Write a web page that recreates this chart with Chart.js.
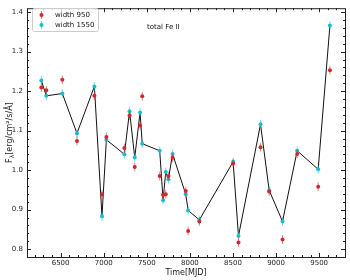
<!DOCTYPE html>
<html>
<head>
<meta charset="utf-8">
<script src="https://cdn.jsdelivr.net/npm/chart.js@4/dist/chart.umd.min.js"></script>
<style>
  html, body { margin: 0; padding: 0; background: #fff; }
  #wrap { width: 350px; height: 280px; }
</style>
</head>
<body>
<div id="wrap"><canvas id="feChart" width="350" height="280"></canvas></div>
<script>
// --- data ---
const mjd = [6276, 6334, 6520, 6690, 6892, 6980, 7031, 7240, 7300, 7360, 7422, 7447,
  7650, 7689, 7720, 7751, 7799, 7952, 7980, 8110, 8502, 8564, 8820, 8920, 9075, 9245, 9489, 9625];
const flux1550 = [1.227, 1.188, 1.194, 1.093, 1.212, 0.883, 1.077, 1.040, 1.149, 1.032, 1.146, 1.067,
  1.049, 0.924, 0.995, 0.977, 1.041, 0.939, 0.898, 0.874, 1.021, 0.833, 1.116, 0.949, 0.870, 1.049, 1.002, 1.366];
const flux950 = [1.209, 1.202, 1.229, 1.074, 1.188, 0.939, 1.084, 1.056, 1.138, 1.008, 1.113, 1.187,
  0.985, 0.937, 0.939, 0.985, 1.031, 0.947, 0.846, 0.870, 1.017, 0.817, 1.058, 0.946, 0.824, 1.041, 0.958, 1.253];
const err1550 = 0.011;
const err950 = 0.011;
const errMjd = 12;
const xTicks = [6500, 7000, 7500, 8000, 8500, 9000, 9500];
const yTicks = [0.8, 0.9, 1.0, 1.1, 1.2, 1.3, 1.4];

const RED = '#d62728';
const CYAN = '#17becf';
const FONT = 'DejaVu Sans';

const pts = (ys) => mjd.map((x, i) => ({ x, y: ys[i] }));

// error bars drawn just before each marker dataset
const errorBars = {
  id: 'errorBars',
  beforeDatasetDraw(chart, args) {
    const ds = chart.data.datasets[args.index];
    if (ds.yErr === undefined) return;
    const { ctx, scales: { x, y } } = chart;
    ctx.save();
    ctx.strokeStyle = ds.errColor;
    ctx.lineWidth = 1;
    ds.data.forEach(p => {
      const px = x.getPixelForValue(p.x);
      ctx.beginPath();
      ctx.moveTo(px, y.getPixelForValue(p.y - ds.yErr));
      ctx.lineTo(px, y.getPixelForValue(p.y + ds.yErr));
      const py = y.getPixelForValue(p.y);
      ctx.moveTo(x.getPixelForValue(p.x - errMjd), py);
      ctx.lineTo(x.getPixelForValue(p.x + errMjd), py);
      ctx.stroke();
    });
    ctx.restore();
  }
};

// frame, inward ticks on all sides, legend, title text, axis labels
const decorations = {
  id: 'decorations',
  afterDraw(chart) {
    const { ctx, chartArea: a, scales: { x, y } } = chart;
    ctx.save();
    ctx.strokeStyle = '#222';
    ctx.lineWidth = 1;
    ctx.strokeRect(a.left + 0.5, a.top + 0.5, a.right - a.left, a.bottom - a.top);

    ctx.beginPath();
    for (let v = 6200; v <= 9700; v += 100) {
      const px = Math.round(x.getPixelForValue(v)) + 0.5;
      const len = v % 500 === 0 ? 4 : 2;
      ctx.moveTo(px, a.bottom); ctx.lineTo(px, a.bottom - len);
      ctx.moveTo(px, a.top); ctx.lineTo(px, a.top + len);
    }
    for (let k = 40; k <= 70; k++) {
      const v = k / 50;
      const py = Math.round(y.getPixelForValue(v)) + 0.5;
      const len = k % 5 === 0 ? 4 : 2;
      ctx.moveTo(a.left, py); ctx.lineTo(a.left + len, py);
      ctx.moveTo(a.right, py); ctx.lineTo(a.right - len, py);
    }
    ctx.stroke();

    // legend box
    ctx.strokeStyle = '#ccc';
    ctx.fillStyle = 'rgba(255,255,255,0.8)';
    ctx.beginPath();
    ctx.roundRect(32.5, 8.5, 66, 23, 2);
    ctx.fill();
    ctx.stroke();
    [[RED, 'width 950', 15], [CYAN, 'width 1550', 25]].forEach(([c, label, ly]) => {
      ctx.strokeStyle = c;
      ctx.globalAlpha = 0.6;
      ctx.beginPath();
      ctx.moveTo(41.5, ly - 4); ctx.lineTo(41.5, ly + 4);
      ctx.stroke();
      ctx.globalAlpha = 1;
      ctx.fillStyle = c;
      ctx.beginPath();
      ctx.arc(41.5, ly, 2, 0, Math.PI * 2);
      ctx.fill();
      ctx.fillStyle = '#111';
      ctx.font = '7px "' + FONT + '"';
      ctx.textBaseline = 'middle';
      ctx.textAlign = 'left';
      ctx.fillText(label, 55, ly);
    });

    ctx.fillStyle = '#111';
    ctx.font = '7px "' + FONT + '"';
    ctx.textBaseline = 'middle';
    ctx.fillText('total Fe II', 147, 27);

    // x label
    ctx.fillStyle = '#222';
    ctx.font = '8px "' + FONT + '"';
    ctx.textAlign = 'center';
    ctx.fillText('Time[MJD]', (a.left + a.right) / 2, 273);

    // y label with subscript lambda
    ctx.textAlign = 'left';
    ctx.translate(10, (a.top + a.bottom) / 2);
    ctx.rotate(-Math.PI / 2);
    const big = '8px "' + FONT + '"';
    const small = '6px "' + FONT + '"';
    ctx.font = big;
    const wF = ctx.measureText('F').width;
    const rest = '[erg/cm\u00b2/s/\u00c5]';
    const wR = ctx.measureText(rest).width;
    ctx.font = small;
    const wL = ctx.measureText('\u03bb').width;
    let sx = -(wF + wL + wR) / 2;
    ctx.font = big;
    ctx.fillText('F', sx, 0);
    ctx.font = small;
    ctx.fillText('\u03bb', sx + wF, 2);
    ctx.font = big;
    ctx.fillText(rest, sx + wF + wL, 0);
    ctx.restore();
  }
};

new Chart(document.getElementById('feChart'), {
  type: 'scatter',
  data: {
    datasets: [
      {
        label: 'width 950',
        data: pts(flux950),
        yErr: err950,
        errColor: 'rgba(214,39,40,0.55)',
        backgroundColor: RED,
        borderColor: RED,
        borderWidth: 0,
        pointRadius: 2,
        showLine: false,
        order: 1,
      },
      {
        label: 'width 1550',
        data: pts(flux1550),
        yErr: err1550,
        errColor: 'rgba(23,190,207,0.55)',
        backgroundColor: CYAN,
        borderColor: CYAN,
        borderWidth: 0,
        pointRadius: 2,
        showLine: false,
        order: 2,
      },
      {
        label: 'line',
        data: pts(flux1550),
        showLine: true,
        borderColor: '#111',
        borderWidth: 1,
        pointRadius: 0,
        tension: 0,
        order: 3,
      },
    ],
  },
  options: {
    responsive: false,
    animation: false,
    events: [],
    layout: { padding: { left: 0, right: 5, top: 5, bottom: 0 } },
    plugins: { legend: { display: false }, tooltip: { enabled: false } },
    scales: {
      x: {
        type: 'linear',
        min: 6110,
        max: 9800,
        afterFit: (s) => { s.height = 23; },
        afterBuildTicks: (s) => { s.ticks = xTicks.map(v => ({ value: v })); },
        grid: { display: false, drawTicks: false },
        border: { display: false },
        ticks: {
          padding: 2,
          color: '#222',
          font: { family: FONT, size: 7 },
          callback: (v) => String(v),
        },
      },
      y: {
        type: 'linear',
        min: 0.78,
        max: 1.41,
        afterFit: (s) => { s.width = 27; },
        afterBuildTicks: (s) => { s.ticks = yTicks.map(v => ({ value: v })); },
        grid: { display: false, drawTicks: false },
        border: { display: false },
        ticks: {
          padding: 4,
          color: '#222',
          font: { family: FONT, size: 7 },
          callback: (v) => v.toFixed(1),
        },
      },
    },
  },
  plugins: [errorBars, decorations],
});
</script>
</body>
</html>
